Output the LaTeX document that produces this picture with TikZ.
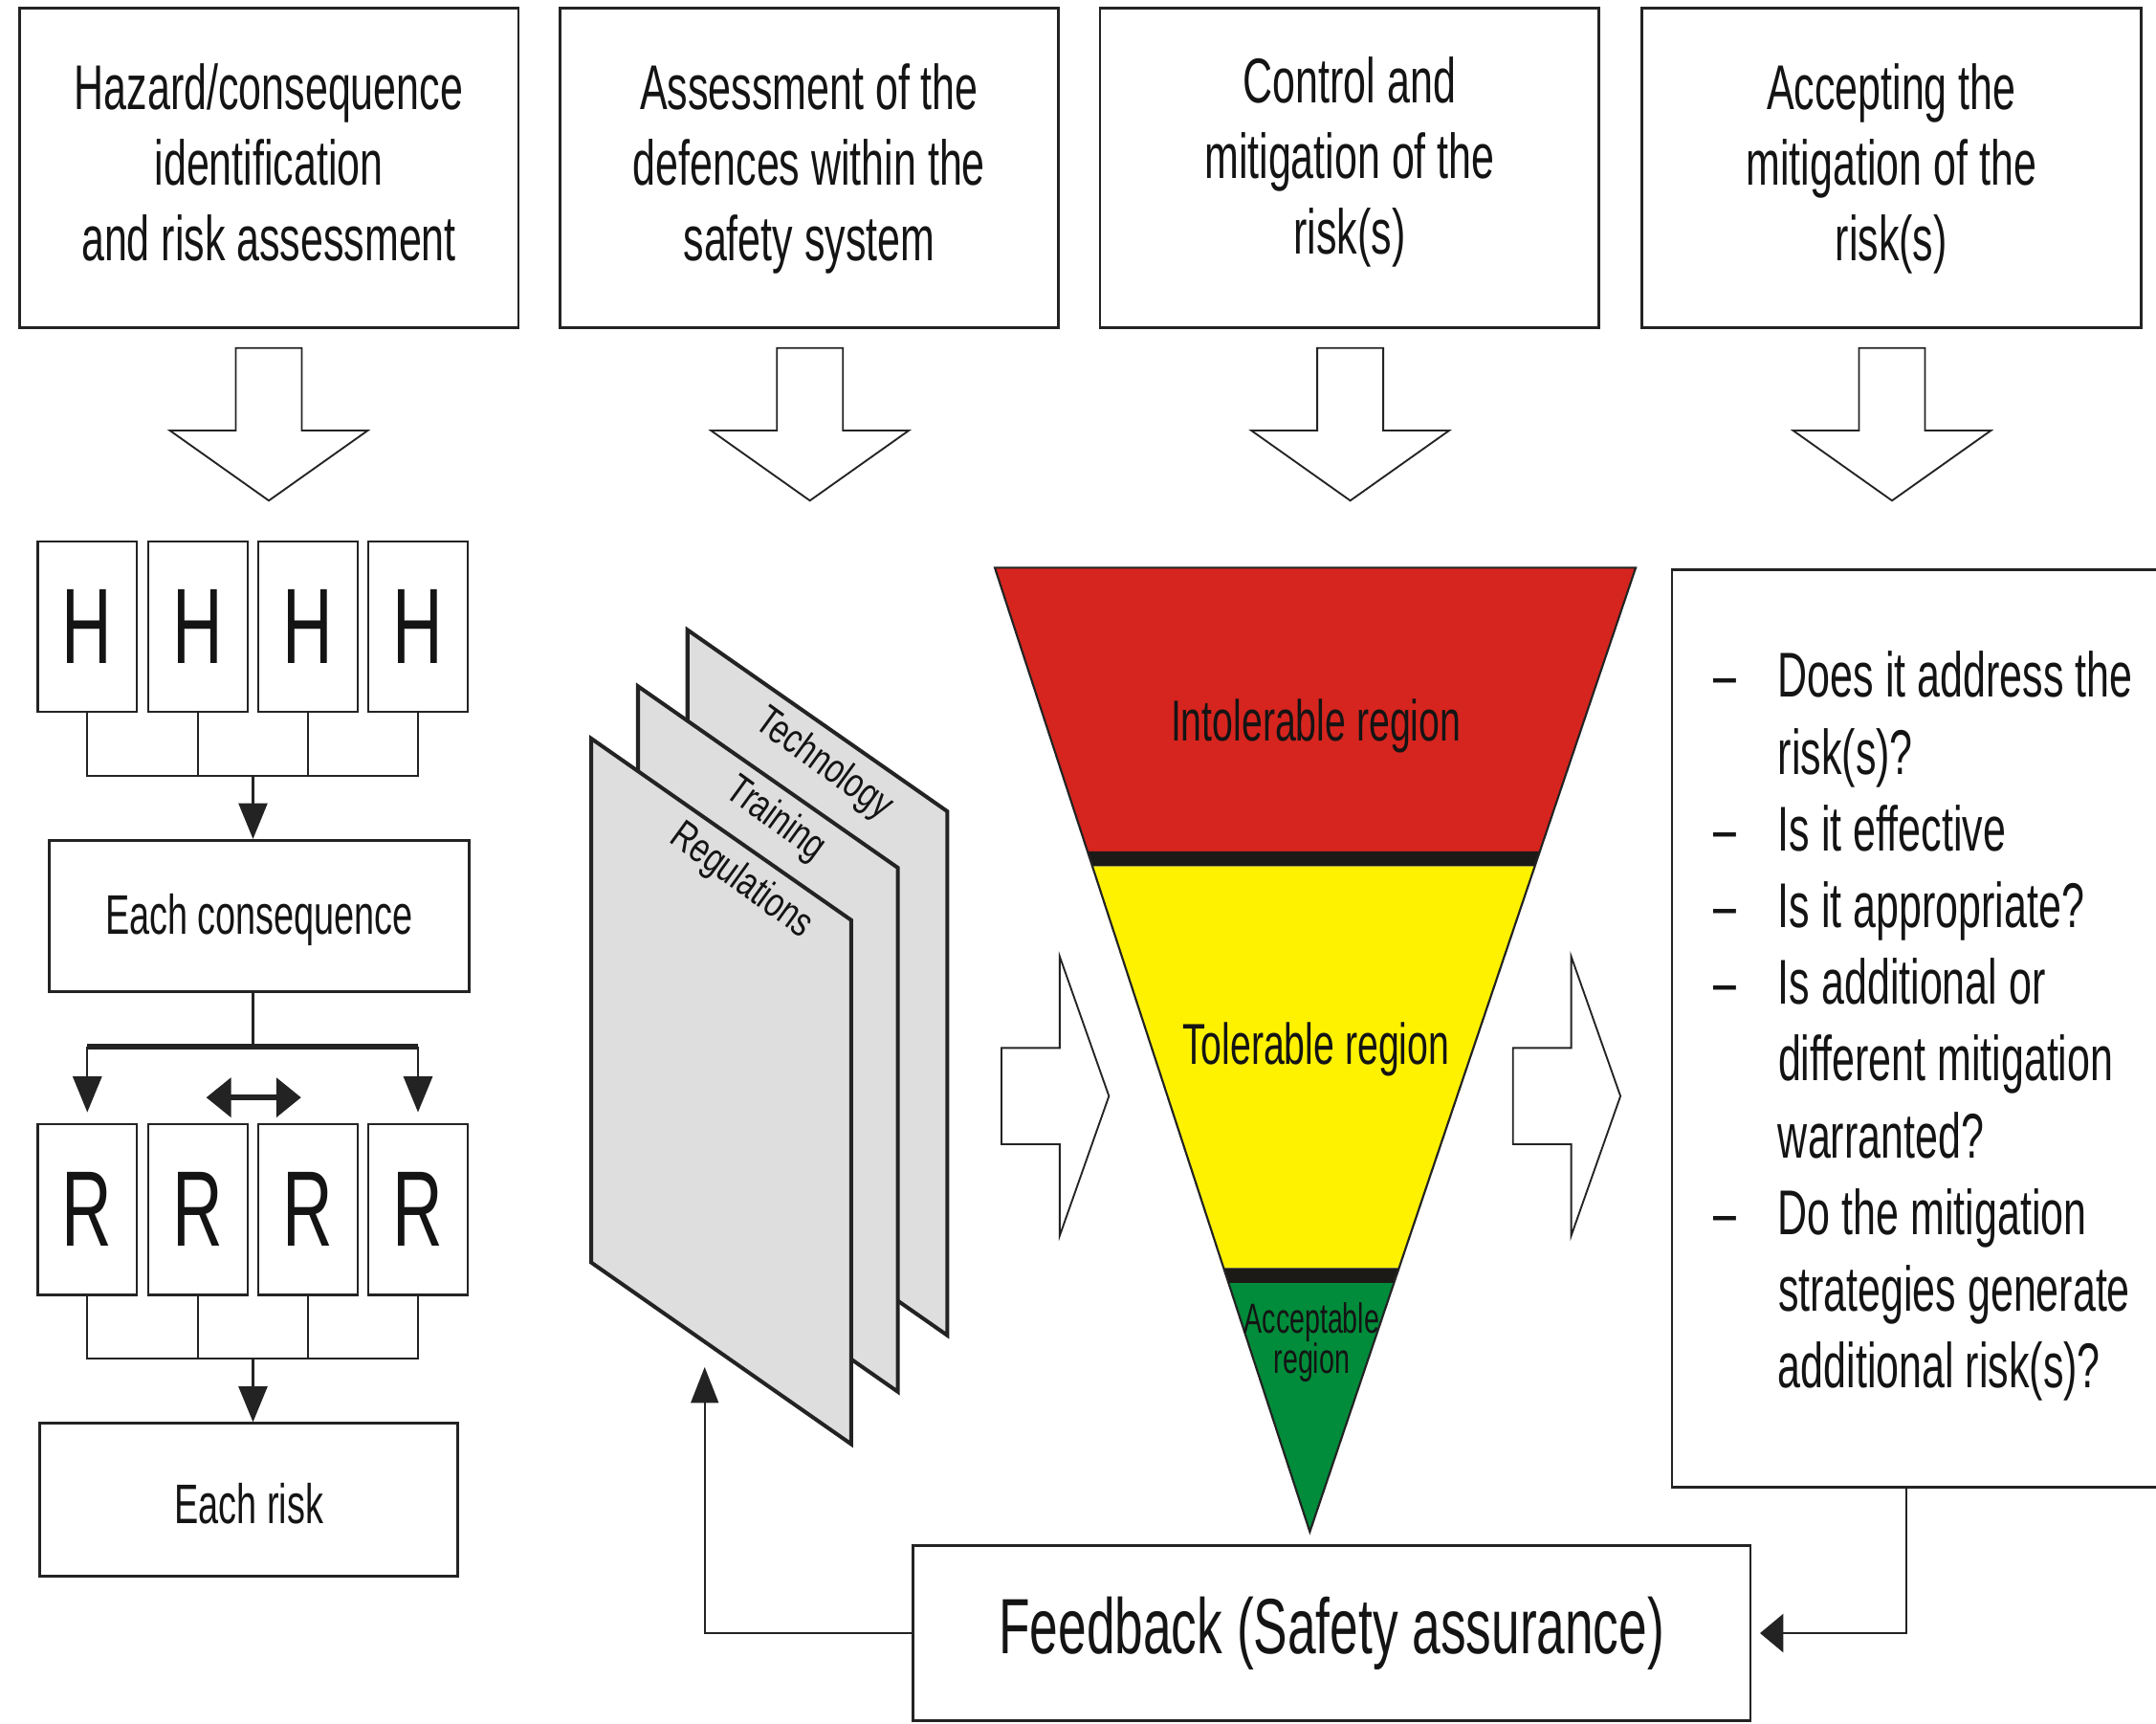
\documentclass[tikz,border=0pt]{standalone}
\usepackage{fontspec}
\setmainfont{Liberation Sans}[FakeStretch=0.65]
\newfontfamily\sheetfont{Liberation Sans}[FakeStretch=0.76]
\usetikzlibrary{arrows.meta,calc}
\definecolor{redreg}{RGB}{214,37,30}
\definecolor{yelreg}{RGB}{255,242,0}
\definecolor{grnreg}{RGB}{0,140,58}
\definecolor{sheetgrey}{RGB}{222,222,222}
\definecolor{linecol}{RGB}{35,35,35}
\definecolor{bandcol}{RGB}{28,26,23}
\definecolor{txtcol}{RGB}{20,20,20}
\newcommand\toptext[2]{\raisebox{#1}[\height][\depth]{\begin{tabular}{@{}c@{}}#2\end{tabular}}}
\begin{document}
\begin{tikzpicture}[x=1pt, y=-1pt,
  ln/.style={draw=linecol, line width=1.5pt},
  topbox/.style={draw=linecol, line width=2pt, fill=white, inner sep=0pt,
    minimum width=363pt, minimum height=232pt, text=txtcol, font=\fontsize{46}{55}\selectfont},
  lbox/.style={draw=linecol, line width=1.5pt, inner sep=0pt, minimum width=72pt,
    minimum height=124pt, text=txtcol, font=\fontsize{78}{80}\selectfont},
  midbox/.style={draw=linecol, line width=2pt, inner sep=0pt, text=txtcol,
    font=\fontsize{40.5}{48}\selectfont},
  blk/.style={draw=linecol, line width=1.3pt, fill=white, line join=miter},
  flowtip/.style={-{Triangle[length=26pt,width=21pt]}},
  sheetshape/.style={draw=linecol, line width=2.8pt, fill=sheetgrey, line join=miter},
  sheetlabel/.style={font=\sheetfont\fontsize{30}{32}\selectfont, rotate=-36, inner sep=0pt, text=txtcol},
  reglabel/.style={text=txtcol, inner sep=0pt},
  downblk/.pic={\path[blk] (-24,0) -- (-24,60) -- (-72,60) -- (0,111) -- (72,60) -- (24,60) -- (24,0) -- cycle;},
  rightblk/.pic={\path[blk] (0,-35) -- (42.4,-35) -- (42.4,-101.5) -- (78.2,0) -- (42.4,101.5) -- (42.4,35) -- (0,35) -- cycle;}
]
\useasboundingbox (0,0) rectangle (1568,1253);
\clip (0,0) rectangle (1568,1253);

% top boxes
\node[topbox] (b1) at (195.5,122) {\toptext{-1.5pt}{Hazard/consequence\\identification\\and risk assessment}};
\node[topbox] (b2) at (588.5,122) {\toptext{-1.5pt}{Assessment of the\\defences within the\\safety system}};
\node[topbox] (b3) at (981.5,122) {\toptext{3.5pt}{Control and\\mitigation of the\\risk(s)}};
\node[topbox] (b4) at (1375.5,122) {\toptext{-1.5pt}{Accepting the\\mitigation of the\\risk(s)}};

% block arrows
\pic at (195.5,253) {downblk};
\pic at (589,253) {downblk};
\pic at (982,253) {downblk};
\pic at (1376,253) {downblk};

% H boxes
\foreach \i/\x in {1/63.5,2/144,3/224,4/304}
  \node[lbox] (h\i) at (\x,455.5) {H};
\coordinate (hj) at (184,564);
\draw[ln] (h1.south) |- (h4.south |- hj) -- (h4.south);
\draw[ln] (h2.south) -- (h2.south |- hj);
\draw[ln] (h3.south) -- (h3.south |- hj);
\node[midbox, minimum width=305pt, minimum height=110pt] (cons) at (188.5,666) {\raisebox{-3pt}[\height][\depth]{Each consequence}};
\draw[ln, flowtip] (hj) -- (hj |- cons.north);

% R boxes
\foreach \i/\x in {1/63.5,2/144,3/224,4/304}
  \node[lbox] (r\i) at (\x,879.5) {R};
\coordinate (cj) at (184,761);
\draw[ln] (cons.south -| cj) -- (cj);
\draw[draw=linecol, line width=4pt] (r1.north |- cj) -- (r4.north |- cj);
\draw[ln, flowtip, shorten >=8pt] (r1.north |- cj) -- (r1.north);
\draw[ln, flowtip, shorten >=8pt] (r4.north |- cj) -- (r4.north);
\coordinate (da1) at (150,798);
\coordinate (da2) at (219,798);
\draw[draw=linecol, line width=4pt, {Triangle[length=18pt,width=28pt]}-{Triangle[length=18pt,width=28pt]}] (da1) -- (da2);
\coordinate (rj) at (184,988);
\draw[ln] (r1.south) |- (r4.south |- rj) -- (r4.south);
\draw[ln] (r2.south) -- (r2.south |- rj);
\draw[ln] (r3.south) -- (r3.south |- rj);
\node[midbox, minimum width=304pt, minimum height=111pt] (risk) at (181,1090.5) {\raisebox{-3pt}[\height][\depth]{Each risk}};
\draw[ln, flowtip] (rj) -- (rj |- risk.north);

% sheets
\path[sheetshape] (500,458) -- ++(189,132) -- ++(0,381) -- ++(-189,-132) -- cycle;
\node[sheetlabel] (tech) at (599,556) {Technology};
\path[sheetshape] (464,499) -- ++(189,132) -- ++(0,381) -- ++(-189,-132) -- cycle;
\node[sheetlabel] (train) at (564,596) {Training};
\path[sheetshape] (430,537) -- ++(189,132) -- ++(0,381) -- ++(-189,-132) -- cycle;
\node[sheetlabel] (regs) at (539,641) {Regulations};

% right-pointing block arrows
\pic at (728.3,797) {rightblk};
\pic at (1100.3,797) {rightblk};

% risk triangle
\coordinate (TL) at (723.5,412.8);
\coordinate (TR) at (1189.6,412.8);
\coordinate (AP) at (952.6,1113.8);
\coordinate (L1) at ($(TL)!0.2942!(AP)$);
\coordinate (R1) at ($(TR)!0.2942!(AP)$);
\coordinate (L2) at ($(TL)!0.3099!(AP)$);
\coordinate (R2) at ($(TR)!0.3099!(AP)$);
\coordinate (L3) at ($(TL)!0.7264!(AP)$);
\coordinate (R3) at ($(TR)!0.7264!(AP)$);
\coordinate (L4) at ($(TL)!0.7421!(AP)$);
\coordinate (R4) at ($(TR)!0.7421!(AP)$);
\fill[redreg] (TL) -- (TR) -- (R1) -- (L1) -- cycle;
\fill[bandcol] (L1) -- (R1) -- (R2) -- (L2) -- cycle;
\fill[yelreg] (L2) -- (R2) -- (R3) -- (L3) -- cycle;
\fill[bandcol] (L3) -- (R3) -- (R4) -- (L4) -- cycle;
\fill[grnreg] (L4) -- (R4) -- (AP) -- cycle;
\draw[ln, line join=miter] (TL) -- (TR) -- (AP) -- cycle;
\node[reglabel, font=\fontsize{42}{48}\selectfont] (intol) at (957,528) {Intolerable region};
\node[reglabel, font=\fontsize{42}{48}\selectfont] (tol) at (957,763) {Tolerable region};
\node[reglabel, align=center, font=\fontsize{30.6}{27}\selectfont] (acc) at (954,976) {Acceptable\\region};

% question box
\node[draw=linecol, line width=2pt, inner sep=0pt, anchor=north west,
  minimum width=380pt, minimum height=667pt] (qbox) at (1215,413.3) {};
\node[anchor=base west, inner sep=0pt, text=txtcol, font=\fontsize{46}{55.8}\selectfont] (qtext) at (1246,507)
{\begin{tabular}[t]{@{}p{47pt}@{}l@{}}
–&Does it address the\\
 &risk(s)?\\
–&Is it effective\\
–&Is it appropriate?\\
–&Is additional or\\
 &different mitigation\\
 &warranted?\\
–&Do the mitigation\\
 &strategies generate\\
 &additional risk(s)?
\end{tabular}};

% feedback
\node[midbox, minimum width=609pt, minimum height=127pt, font=\fontsize{57}{60}\selectfont] (fb) at (968.5,1187.5) {Feedback (Safety assurance)};
\coordinate (qout) at (1386.5,1080.5);
\draw[ln, -{Triangle[length=17pt,width=28pt]}, shorten >=6pt] (qout) |- (fb.east);
\coordinate (stip) at (512.5,994);
\draw[ln, -{Triangle[length=26pt,width=20pt]}] (fb.west) -| (stip);
\end{tikzpicture}
\end{document}
